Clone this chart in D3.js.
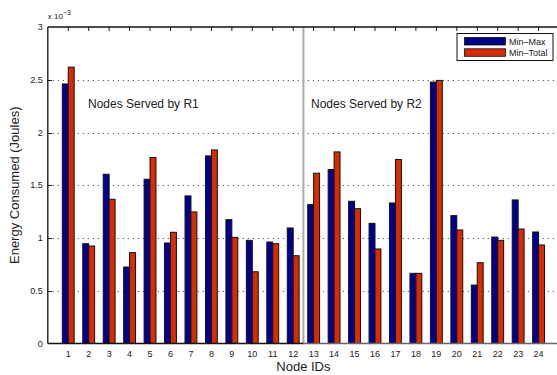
<!DOCTYPE html>
<html>
<head>
<meta charset="utf-8">
<script src="https://cdn.jsdelivr.net/npm/d3@7"></script>
<style>
  body { margin: 0; background: #fff; }
  text { font-family: "Liberation Sans", Arial, sans-serif; fill: #222; }
</style>
</head>
<body>
<svg width="557" height="375"></svg>
<script>
// node ids and energy values (x 10^-3 Joules)
const nodes = d3.range(1, 25);
const minMax = [2.46, 0.946, 1.604, 0.725, 1.557, 0.953, 1.399, 1.778, 1.174, 0.978, 0.962, 1.095,
                1.316, 1.649, 1.348, 1.139, 1.332, 0.665, 2.478, 1.212, 0.554, 1.009, 1.361, 1.057];
const minTotal = [2.62, 0.924, 1.367, 0.861, 1.763, 1.054, 1.247, 1.835, 1.006, 0.68, 0.946, 0.832,
                  1.614, 1.816, 1.278, 0.896, 1.744, 0.665, 2.494, 1.076, 0.766, 0.978, 1.085, 0.934];
const seriesNames = ["Min\u2013Max", "Min\u2013Total"];
const yTicks = [0, 0.5, 1, 1.5, 2, 2.5, 3];
const yTickLabels = ["0", "0.5", "1", "1.5", "2", "2.5", "3"];

const colors = ["#00008f", "#d92b00"];
const svg = d3.select("svg");

const x = d3.scaleLinear().domain([0, 25]).range([47.8, 47.8 + 25 * 20.45]);
const y = d3.scaleLinear().domain([0, 3]).range([343.5, 27]);
const barW = 0.29;
const left = x(0);

// dotted grid lines
svg.append("g")
    .selectAll("line")
    .data(yTicks.filter(d => d > 0 && d < 3))
    .join("line")
    .attr("x1", left).attr("x2", 557)
    .attr("y1", d => Math.round(y(d)) + 0.5).attr("y2", d => Math.round(y(d)) + 0.5)
    .attr("stroke", "#333")
    .attr("stroke-width", 1)
    .attr("stroke-dasharray", "1,4");

// left ticks
svg.append("g")
    .selectAll("line")
    .data(yTicks.filter(d => d > 0 && d < 3))
    .join("line")
    .attr("x1", left).attr("x2", left + 4)
    .attr("y1", d => Math.round(y(d)) + 0.5).attr("y2", d => Math.round(y(d)) + 0.5)
    .attr("stroke", "#111");

// separator between R1 and R2
svg.append("line")
    .attr("x1", x(12.5)).attr("x2", x(12.5))
    .attr("y1", y(3)).attr("y2", y(0))
    .attr("stroke", "#aaa")
    .attr("stroke-width", 2);

// bars
const series = [minMax, minTotal];
series.forEach((vals, si) => {
    svg.append("g")
        .selectAll("rect")
        .data(vals)
        .join("rect")
        .attr("x", (d, i) => x(nodes[i] - barW + si * barW))
        .attr("width", x(barW) - x(0))
        .attr("y", d => y(d))
        .attr("height", d => y(0) - y(d))
        .attr("fill", colors[si])
        .attr("stroke", "#111")
        .attr("stroke-width", 1);
});

// axes frame
svg.append("line").attr("x1", left).attr("x2", 557).attr("y1", y(3)).attr("y2", y(3))
    .attr("stroke", "#111").attr("stroke-width", 1.3);
svg.append("line").attr("x1", left).attr("x2", left).attr("y1", y(3)).attr("y2", y(0))
    .attr("stroke", "#111").attr("stroke-width", 1.3);
svg.append("line").attr("x1", left).attr("x2", x(12.5)).attr("y1", y(0)).attr("y2", y(0))
    .attr("stroke", "#111").attr("stroke-width", 1.3);
svg.append("line").attr("x1", x(12.5)).attr("x2", 557).attr("y1", y(0)).attr("y2", y(0))
    .attr("stroke", "#666").attr("stroke-width", 1.3);

// top ticks
svg.append("g")
    .selectAll("line")
    .data(nodes)
    .join("line")
    .attr("x1", d => x(d)).attr("x2", d => x(d))
    .attr("y1", y(3)).attr("y2", y(3) + 4)
    .attr("stroke", "#111");

// x tick labels
svg.append("g")
    .selectAll("text")
    .data(nodes)
    .join("text")
    .attr("x", d => x(d))
    .attr("y", 357)
    .attr("text-anchor", "middle")
    .attr("font-size", 9)
    .text(d => d);

// y tick labels
svg.append("g")
    .selectAll("text")
    .data(yTicks)
    .join("text")
    .attr("x", left - 5)
    .attr("y", d => y(d) + 3)
    .attr("text-anchor", "end")
    .attr("font-size", 9)
    .text((d, i) => yTickLabels[i]);

// exponent label
const expo = svg.append("text").attr("x", left).attr("y", 19).attr("font-size", 8);
expo.append("tspan").text("x 10");
expo.append("tspan").attr("dy", -4).attr("font-size", 7).text("\u22123");

// axis titles
svg.append("text")
    .attr("x", x(12.5)).attr("y", 371)
    .attr("text-anchor", "middle")
    .attr("font-size", 13)
    .text("Node IDs");
svg.append("text")
    .attr("transform", `translate(19,${(y(0) + y(3)) / 2}) rotate(-90)`)
    .attr("text-anchor", "middle")
    .attr("font-size", 13)
    .text("Energy Consumed (Joules)");

// annotations
svg.append("text").attr("x", 88).attr("y", 108).attr("font-size", 12).text("Nodes Served by R1");
svg.append("text").attr("x", 311).attr("y", 108).attr("font-size", 12).text("Nodes Served by R2");

// legend
const lg = svg.append("g");
lg.append("rect").attr("x", 457).attr("y", 33.5).attr("width", 96).attr("height", 27)
    .attr("fill", "#fff").attr("stroke", "#111").attr("stroke-width", 1);
seriesNames.forEach((name, i) => {
    lg.append("rect").attr("x", 464.5).attr("y", 37.5 + i * 11.3).attr("width", 41).attr("height", 7.5)
        .attr("fill", colors[i]).attr("stroke", "#111").attr("stroke-width", 0.8);
    lg.append("text").attr("x", 509).attr("y", 44.5 + i * 11.3).attr("font-size", 9).text(name);
});
</script>
</body>
</html>
